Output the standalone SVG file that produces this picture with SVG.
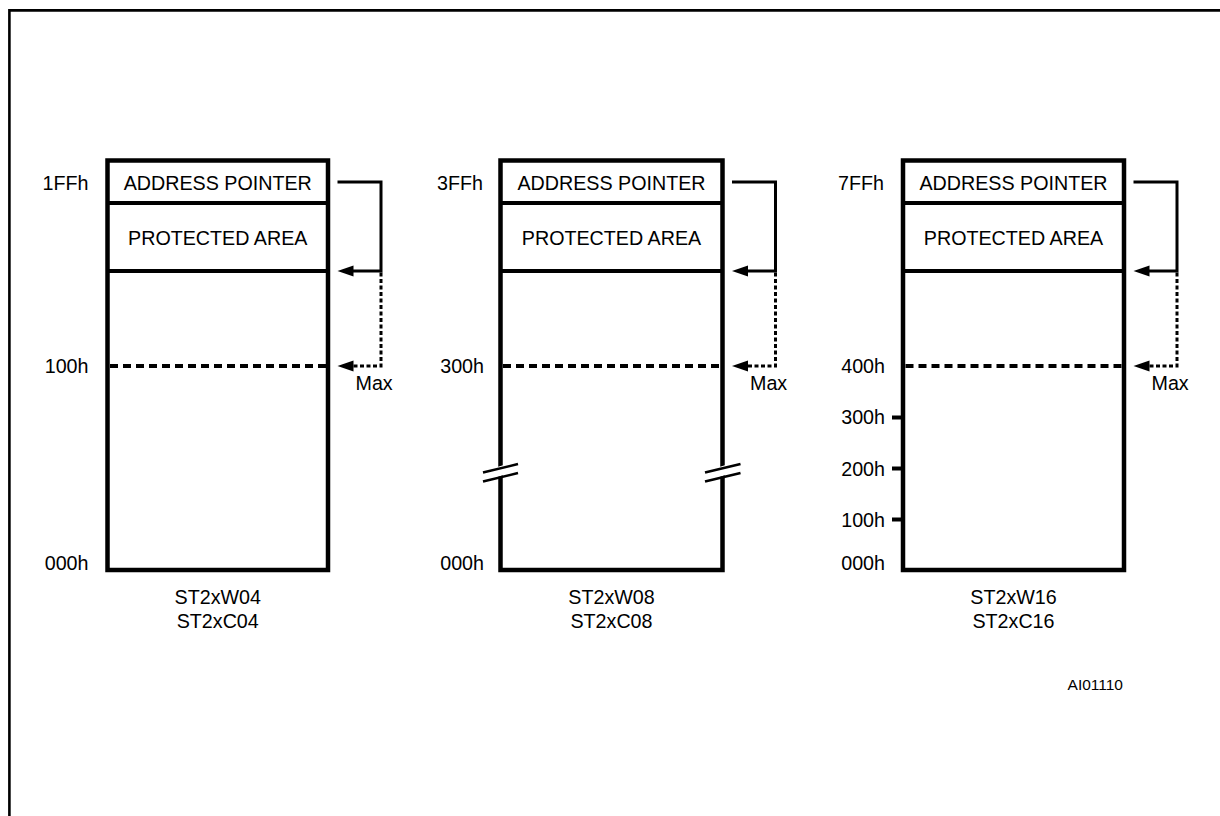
<svg xmlns="http://www.w3.org/2000/svg" width="1220" height="816" viewBox="0 0 1220 816">
<style>
text{font-family:"Liberation Sans",Arial,sans-serif;font-size:19.7px;fill:#000}
.mid{text-anchor:middle}
.end{text-anchor:end}
.box{fill:#fff;stroke:#000;stroke-width:4.5}
.div{stroke:#000;stroke-width:4;fill:none}
.lim{stroke:#000;stroke-width:4;stroke-dasharray:8 5;fill:none}
.ptr{stroke:#000;stroke-width:3;fill:none}
.ptrd{stroke:#000;stroke-width:3;stroke-dasharray:4 2.5;fill:none}
.brk{stroke:#000;stroke-width:2.5;fill:none}
.tick{stroke:#000;stroke-width:4}
.ref{font-size:15.5px}
</style>
<defs>
<marker id="ah" markerUnits="userSpaceOnUse" markerWidth="16" markerHeight="11" refX="8" refY="5.5" orient="auto" overflow="visible">
<path d="M0,0 L16,5.5 L0,11 Z" fill="#000"/>
</marker>
</defs>
<rect width="1220" height="816" fill="#fff"/>
<path d="M9.4,816 V10.4 H1220" fill="none" stroke="#000" stroke-width="2.6"/>

<g id="map-w04">
<rect class="box" x="107.5" y="160.5" width="220.5" height="409.5"/>
<line class="div" x1="107.5" y1="203" x2="328" y2="203"/>
<line class="div" x1="107.5" y1="271" x2="328" y2="271"/>
<line class="lim" x1="110" y1="366" x2="326" y2="366"/>
<text class="mid" x="217.75" y="189.5">ADDRESS POINTER</text>
<text class="mid" x="217.75" y="244.5">PROTECTED AREA</text>
<text class="end" x="88.5" y="189.5">1FFh</text>
<text class="end" x="88.5" y="373">100h</text>
<text class="end" x="88.5" y="570">000h</text>
<text x="355.5" y="390">Max</text>
<text class="mid" x="217.75" y="604">ST2xW04</text>
<text class="mid" x="217.75" y="628">ST2xC04</text>
</g>

<g id="map-w08">
<rect class="box" x="500.5" y="160.5" width="222" height="409.5"/>
<line class="div" x1="500.5" y1="203" x2="722.5" y2="203"/>
<line class="div" x1="500.5" y1="271" x2="722.5" y2="271"/>
<line class="lim" x1="503" y1="366" x2="720.5" y2="366"/>
<polygon points="494,468 507,464 507,474 494,478" fill="#fff"/>
<polygon points="716,468 729,464 729,474 716,478" fill="#fff"/>
<line class="brk" x1="483" y1="472.5" x2="518" y2="464"/>
<line class="brk" x1="483" y1="481.5" x2="518" y2="473"/>
<line class="brk" x1="705" y1="472.5" x2="740.5" y2="464"/>
<line class="brk" x1="705" y1="481.5" x2="740.5" y2="473"/>
<text class="mid" x="611.5" y="189.5">ADDRESS POINTER</text>
<text class="mid" x="611.5" y="244.5">PROTECTED AREA</text>
<text class="end" x="483" y="189.5">3FFh</text>
<text class="end" x="484" y="373">300h</text>
<text class="end" x="484" y="570">000h</text>
<text x="750" y="390">Max</text>
<text class="mid" x="611.5" y="604">ST2xW08</text>
<text class="mid" x="611.5" y="628">ST2xC08</text>
</g>

<g id="map-w16">
<rect class="box" x="903" y="160.5" width="221" height="409.5"/>
<line class="div" x1="903" y1="203" x2="1124" y2="203"/>
<line class="div" x1="903" y1="271" x2="1124" y2="271"/>
<line class="lim" x1="905.5" y1="366" x2="1122" y2="366"/>
<line class="tick" x1="892" y1="417.5" x2="903" y2="417.5"/>
<line class="tick" x1="892" y1="468.5" x2="903" y2="468.5"/>
<line class="tick" x1="892" y1="519.5" x2="903" y2="519.5"/>
<text class="mid" x="1013.5" y="189.5">ADDRESS POINTER</text>
<text class="mid" x="1013.5" y="244.5">PROTECTED AREA</text>
<text class="end" x="884" y="189.5">7FFh</text>
<text class="end" x="885" y="373">400h</text>
<text class="end" x="885" y="424">300h</text>
<text class="end" x="885" y="475.5">200h</text>
<text class="end" x="885" y="526.5">100h</text>
<text class="end" x="885" y="570">000h</text>
<text x="1151.5" y="390">Max</text>
<text class="mid" x="1013.5" y="604">ST2xW16</text>
<text class="mid" x="1013.5" y="628">ST2xC16</text>
</g>

<g id="connectors">
<path class="ptr" d="M337.5,182 H381 V271 H345.5" marker-end="url(#ah)"/>
<path class="ptrd" d="M381,272.5 V366 H345.5" marker-end="url(#ah)"/>
<path class="ptr" d="M732,182 H775.5 V271 H740" marker-end="url(#ah)"/>
<path class="ptrd" d="M775.5,272.5 V366 H740" marker-end="url(#ah)"/>
<path class="ptr" d="M1133.5,182 H1177 V271 H1141.5" marker-end="url(#ah)"/>
<path class="ptrd" d="M1177,272.5 V366 H1141.5" marker-end="url(#ah)"/>
</g>

<text class="end ref" x="1123" y="690">AI01110</text>
</svg>
